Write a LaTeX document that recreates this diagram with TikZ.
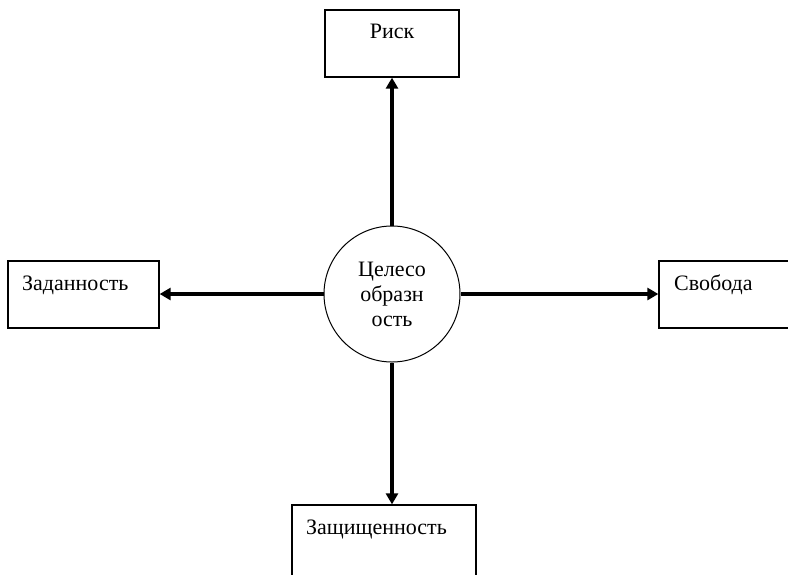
\documentclass[tikz,border=0pt]{standalone}
\usepackage{fontspec}
\setmainfont{Liberation Serif}
\newfontfamily\tnr{Liberation Serif}
\usetikzlibrary{arrows.meta}
\begin{document}
\begin{tikzpicture}[x=1pt,y=-1pt,
  box/.style={draw, line width=1.3pt, rectangle, inner sep=0pt},
  lbl/.style={font=\tnr\fontsize{22}{25}\selectfont, inner sep=0pt},
  conn/.style={line width=3.4pt, -{Triangle[length=11pt,width=12pt]}}]
\useasboundingbox (0,0) rectangle (788,574);
% boxes
\node[box, minimum width=134pt, minimum height=67pt] (risk) at (392,43.5) {};
\node[box, minimum width=151pt, minimum height=67pt] (zad) at (83.5,294.5) {};
\node[box, minimum width=160pt, minimum height=67pt] (svo) at (739,294.5) {};
\node[box, minimum width=184pt, minimum height=120pt] (zash) at (384,565) {};
% circle
\node[draw, circle, line width=1pt, minimum size=136pt, inner sep=0pt, align=center,
      font=\tnr\fontsize{22}{25}\selectfont] (c) at (392,294) {Целесо\\образн\\ость};
% texts
\node[lbl, anchor=base] (trisk) at (392,38.5) {Риск};
\node[lbl, anchor=base west] (tzad) at (22,290) {Заданность};
\node[lbl, anchor=base west] (tsvo) at (674,290) {Свобода};
\node[lbl, anchor=base west] (tzash) at (306,534) {Защищенность};
% connectors
\draw[conn] (c.north) -- (c.north |- risk.south);
\draw[conn] (c.west) -- (c.west -| zad.east);
\draw[conn] (c.east) -- (c.east -| svo.west);
\draw[conn] (c.south) -- (c.south |- zash.north);
\end{tikzpicture}
\end{document}
